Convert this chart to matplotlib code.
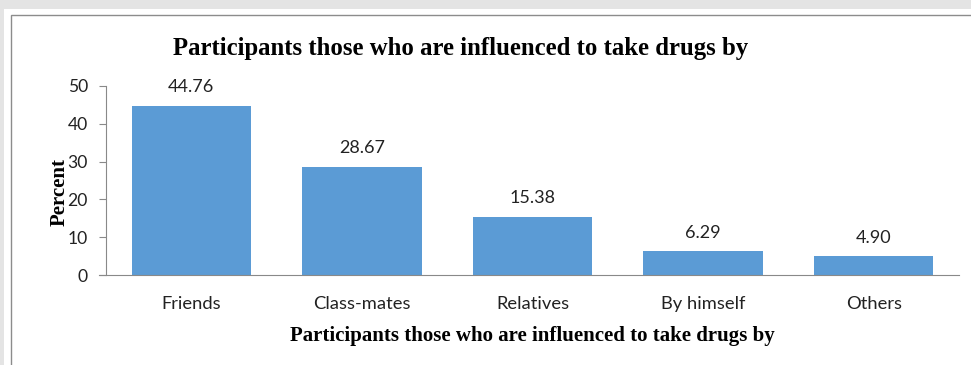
import matplotlib
matplotlib.use("Agg")
import matplotlib.pyplot as plt
from matplotlib.patches import Rectangle

# influence sources and their share of participants (%)
categories = ["Friends", "Class-mates", "Relatives", "By himself", "Others"]
percents = [44.76, 28.67, 15.38, 6.29, 4.90]
value_labels = ["44.76", "28.67", "15.38", "6.29", "4.90"]
yticks = [0, 10, 20, 30, 40, 50]

title = "Participants those who are influenced to take drugs by"

bar_color = "#5B9BD5"
axis_color = "#898989"
sans = ["Lato", "DejaVu Sans"]
serif = ["Liberation Serif", "DejaVu Serif"]

fig = plt.figure(figsize=(9.71, 3.65), dpi=100)
fig.patch.set_facecolor("white")

# grey page strip and the chart frame around the plot
fig.patches.append(Rectangle((0, 1 - 9 / 365), 1, 9 / 365, transform=fig.transFigure,
                             facecolor="#e4e4e4", edgecolor="none", zorder=0))
fig.patches.append(Rectangle((0, 0), 4 / 971, 1, transform=fig.transFigure,
                             facecolor="#e4e4e4", edgecolor="none", zorder=0))
fig.patches.append(Rectangle((11 / 971, -0.1), 1.2, 1 - 15 / 365 + 0.1,
                             transform=fig.transFigure, facecolor="none",
                             edgecolor="#8c8c8c", linewidth=1.0, zorder=1))

ax = fig.add_axes([106 / 971, 1 - 275 / 365, (959 - 106) / 971, (275 - 86) / 365])
x = range(len(categories))
bars = ax.bar(x, percents, width=0.7, color=bar_color, zorder=2)

for b, lab in zip(bars, value_labels):
    ax.annotate(lab, (b.get_x() + b.get_width() / 2, b.get_height()),
                xytext=(0, 7.5), textcoords="offset points", ha="center", va="bottom",
                fontsize=13, family=sans, color="#222222")

ax.set_xlim(-0.5, len(categories) - 0.5)
ax.set_ylim(0, 50)
ax.set_yticks(yticks)
ax.set_yticklabels([str(t) for t in yticks], family=sans, fontsize=12.6, color="#222222")
ax.set_xticks(list(x))
ax.set_xticklabels(categories, family=sans, fontsize=13.2, color="#222222")
ax.tick_params(axis="x", length=0, pad=15)
ax.tick_params(axis="y", length=5, color=axis_color, pad=8)

for side in ["top", "right"]:
    ax.spines[side].set_visible(False)
ax.spines["left"].set_color(axis_color)
ax.spines["bottom"].set_color(axis_color)
ax.spines["bottom"].set_bounds(-0.54, len(categories) - 0.5)

ax.set_ylabel("Percent", family=serif, fontweight="bold", fontsize=15)
ax.yaxis.set_label_coords(-0.043, 0.44)
ax.set_xlabel(title, family=serif, fontweight="bold", fontsize=15, labelpad=10)

fig.text(461 / 971, 1 - 48 / 365, title, ha="center", va="center",
         family=serif, fontweight="bold", fontsize=17.8)

fig.savefig("out.png", dpi=100)
